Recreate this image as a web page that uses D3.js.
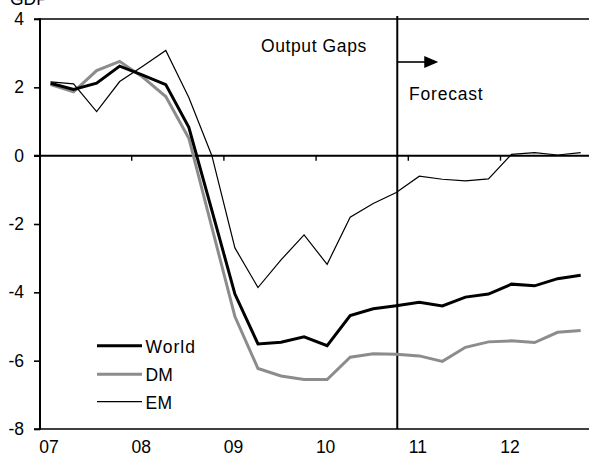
<!DOCTYPE html>
<html>
<head>
<meta charset="utf-8">
<script src="https://cdn.jsdelivr.net/npm/d3@7"></script>
<style>
  html, body { margin: 0; padding: 0; background: #fff; }
  svg { display: block; }
  text { font-family: "Liberation Sans", Arial, sans-serif; fill: #000; }
</style>
</head>
<body>
<svg id="chart" width="589" height="458"></svg>
<script>
// ---- Data (output gaps, % of potential GDP, quarterly 2007Q1-2012Q4) ----
const quarters = ["07Q1","07Q2","07Q3","07Q4","08Q1","08Q2","08Q3","08Q4",
                  "09Q1","09Q2","09Q3","09Q4","10Q1","10Q2","10Q3","10Q4",
                  "11Q1","11Q2","11Q3","11Q4","12Q1","12Q2","12Q3","12Q4"];
const world = [2.12, 1.94, 2.12, 2.62, 2.36, 2.08, 0.83, -1.6, -4.05, -5.51, -5.46, -5.3,
               -5.56, -4.68, -4.48, -4.39, -4.29, -4.4, -4.14, -4.05, -3.76, -3.81, -3.6, -3.5];
const dm    = [2.08, 1.87, 2.49, 2.76, 2.3, 1.73, 0.51, -2.1, -4.71, -6.23, -6.45, -6.55,
               -6.55, -5.9, -5.8, -5.81, -5.86, -6.02, -5.61, -5.45, -5.42, -5.47, -5.17, -5.12];
const em    = [2.16, 2.1, 1.29, 2.17, 2.62, 3.08, 1.7, 0.0, -2.7, -3.86, -3.05, -2.32,
               -3.18, -1.8, -1.4, -1.08, -0.6, -0.69, -0.74, -0.68, 0.04, 0.09, 0.02, 0.09];
const seriesNames = ["World", "DM", "EM"];
const yearLabels = ["07","08","09","10","11","12"];
const yTicks = [4, 2, 0, -2, -4, -6, -8];
const forecastStart = "10Q4";

(function () {
// ---- Layout ----
const svg = d3.select("#chart");
const left = 40, topY = 19, bottomY = 429, step = 23.05, x0 = 39;
const x = d3.scaleBand().domain(quarters).range([x0, x0 + step * quarters.length]).padding(0);
const xq = d3.scaleLinear().domain([0, quarters.length]).range([x0, x0 + step * quarters.length]);
const y = d3.scaleLinear().domain([-8, 4]).range([bottomY, topY]);
const cx = q => x(q) + x.bandwidth() / 2;
const FS = "17.5px";

// top & bottom frame lines
svg.append("line").attr("x1", 34).attr("x2", 589).attr("y1", y(4)).attr("y2", y(4))
  .attr("stroke", "#000").attr("stroke-width", 1.6);
svg.append("line").attr("x1", 34).attr("x2", 589).attr("y1", y(-8)).attr("y2", y(-8))
  .attr("stroke", "#000").attr("stroke-width", 1.6);

// y axis
const yAxis = svg.append("g").attr("transform", `translate(${left},0)`)
  .call(d3.axisLeft(y).tickValues(yTicks).tickSize(6).tickPadding(10).tickFormat(d => String(d)));
yAxis.select(".domain").remove();
yAxis.selectAll(".tick line").attr("stroke", "#000").attr("stroke-width", 1.6);
yAxis.selectAll("text").style("font-size", FS).attr("font-family", "Liberation Sans, Arial, sans-serif");
svg.append("line").attr("x1", left).attr("x2", left).attr("y1", y(4) - 0.8).attr("y2", y(-8) + 0.8)
  .attr("stroke", "#000").attr("stroke-width", 2);

// zero line with year-boundary ticks
svg.append("line").attr("x1", 34).attr("x2", 589).attr("y1", y(0)).attr("y2", y(0))
  .attr("stroke", "#000").attr("stroke-width", 2);
const zAxis = svg.append("g").attr("transform", `translate(0,${y(0)})`)
  .call(d3.axisBottom(xq).tickValues([4, 8, 12, 16, 20]).tickSize(5).tickFormat(""));
zAxis.select(".domain").remove();
zAxis.selectAll(".tick line").attr("stroke", "#000").attr("stroke-width", 1.4);

// year labels at bottom
const firstQ = yearLabels.map(yl => yl + "Q1");
const xAxis = svg.append("g").attr("transform", `translate(-1.5,${bottomY})`)
  .call(d3.axisBottom(x).tickValues(firstQ).tickSize(0).tickPadding(12)
        .tickFormat(q => q.slice(0, 2)));
xAxis.select(".domain").remove();
xAxis.selectAll("text").style("font-size", FS).attr("font-family", "Liberation Sans, Arial, sans-serif");

// forecast vertical line
const fx = cx(forecastStart) + 1;
svg.append("line").attr("x1", fx).attr("x2", fx).attr("y1", 16).attr("y2", bottomY)
  .attr("stroke", "#000").attr("stroke-width", 2);
// arrow
svg.append("line").attr("x1", fx).attr("x2", fx + 29).attr("y1", 62).attr("y2", 62)
  .attr("stroke", "#000").attr("stroke-width", 1.6);
svg.append("path").attr("d", `M${fx + 27},56 L${fx + 41},62 L${fx + 27},68 Z`).attr("fill", "#000");

// texts
svg.append("text").attr("x", 261).attr("y", 51.5).style("font-size", FS)
  .style("letter-spacing", "0.6px").text("Output Gaps");
svg.append("text").attr("x", 409).attr("y", 100).style("font-size", FS)
  .style("letter-spacing", "0.8px").text("Forecast");
svg.append("text").attr("x", 10).attr("y", 4.5).style("font-size", FS).text("GDP");

// series lines
const styles = {
  World: { data: world, color: "#000", width: 3, ls: "1px" },
  DM:    { data: dm,    color: "#8c8c8c", width: 3, ls: "0px" },
  EM:    { data: em,    color: "#000", width: 1.2, ls: "0.3px" }
};
const line = d3.line().x((d, i) => cx(quarters[i])).y(d => y(d));
["DM", "World", "EM"].forEach(name => {
  const s = styles[name];
  svg.append("path").datum(s.data).attr("d", line)
    .attr("fill", "none").attr("stroke", s.color).attr("stroke-width", s.width)
    .attr("stroke-linejoin", "miter");
});

// legend
const legY = [345.7, 374.3, 401.7];
seriesNames.forEach((name, i) => {
  const s = styles[name];
  svg.append("line").attr("x1", 97).attr("x2", 142).attr("y1", legY[i]).attr("y2", legY[i])
    .attr("stroke", s.color).attr("stroke-width", s.width);
  svg.append("text").attr("x", 145.5).attr("y", legY[i] + 7).style("font-size", FS)
    .style("letter-spacing", s.ls).text(name);
});
})();
</script>
</body>
</html>
